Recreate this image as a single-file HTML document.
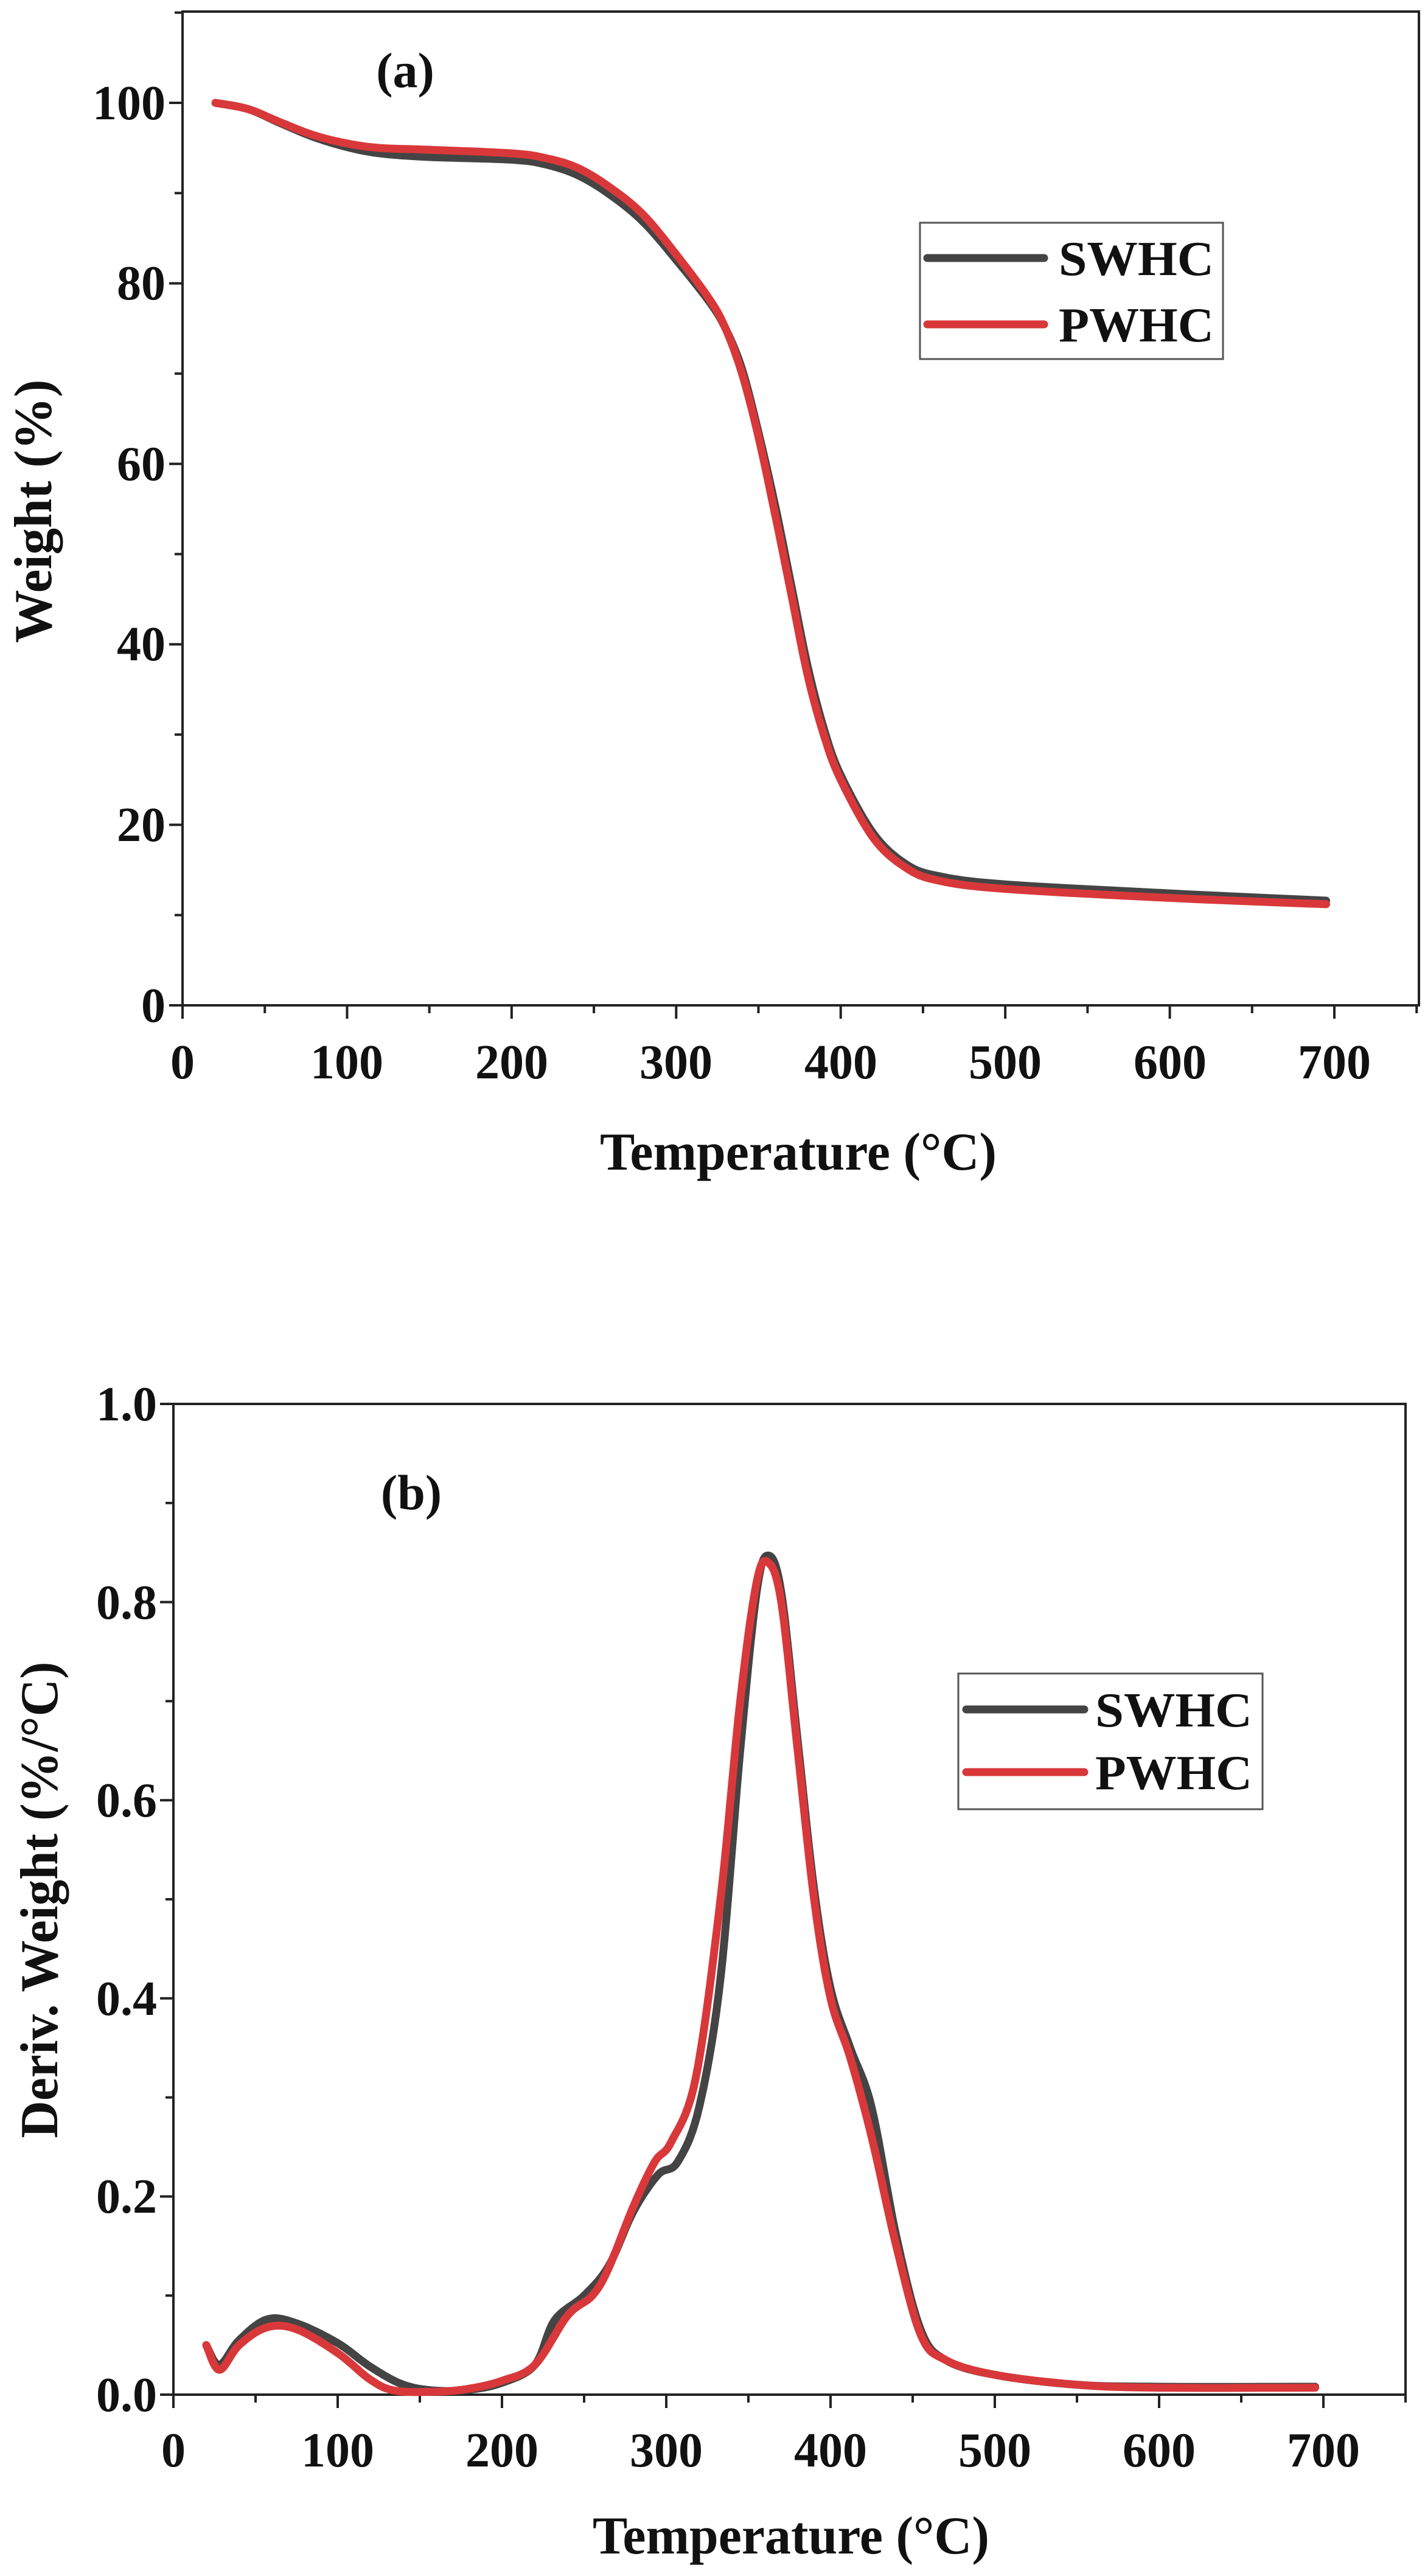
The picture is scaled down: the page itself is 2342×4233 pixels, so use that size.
<!DOCTYPE html>
<html><head><meta charset="utf-8"><style>
html,body{margin:0;padding:0;background:#fff;}
svg{display:block;}
text{font-family:"Liberation Serif",serif;font-weight:bold;fill:#111;}
</style></head><body>
<svg id="s" width="2342" height="4233" viewBox="0 0 2342 4233" xmlns="http://www.w3.org/2000/svg">
<rect width="2342" height="4233" fill="#fff"/>
<g id="g"></g>
<!-- Plot a texts -->
<text x="666" y="143" font-size="82" text-anchor="middle">(a)</text>
<g font-size="80" text-anchor="end">
<text x="272" y="196">100</text><text x="272" y="492">80</text><text x="272" y="789">60</text>
<text x="272" y="1085">40</text><text x="272" y="1382">20</text><text x="272" y="1679">0</text>
</g>
<g font-size="80" text-anchor="middle">
<text x="300" y="1772">0</text><text x="570" y="1772">100</text><text x="841" y="1772">200</text>
<text x="1111" y="1772">300</text><text x="1382" y="1772">400</text><text x="1652" y="1772">500</text>
<text x="1923" y="1772">600</text><text x="2193" y="1772">700</text>
</g>
<text x="1312" y="1922" font-size="88" text-anchor="middle" textLength="652" lengthAdjust="spacingAndGlyphs">Temperature (°C)</text>
<text transform="translate(84,840) rotate(-90)" font-size="88" text-anchor="middle" textLength="433" lengthAdjust="spacingAndGlyphs">Weight (%)</text>
<rect x="1512" y="366" width="498" height="224" fill="none" stroke="#555" stroke-width="3"/>
<line x1="1524" y1="424" x2="1716" y2="424" stroke="#444" stroke-width="13" stroke-linecap="round"/>
<line x1="1524" y1="533" x2="1716" y2="533" stroke="#d9383a" stroke-width="13" stroke-linecap="round"/>
<text x="1740" y="452" font-size="80" textLength="255" lengthAdjust="spacingAndGlyphs">SWHC</text>
<text x="1740" y="561" font-size="80" textLength="255" lengthAdjust="spacingAndGlyphs">PWHC</text>
<!-- Plot b texts -->
<text x="676" y="2480" font-size="82" text-anchor="middle">(b)</text>
<g font-size="80" text-anchor="end">
<text x="258" y="2334">1.0</text><text x="258" y="2660">0.8</text><text x="258" y="2985">0.6</text>
<text x="258" y="3311">0.4</text><text x="258" y="3636">0.2</text><text x="258" y="3962">0.0</text>
</g>
<g font-size="80" text-anchor="middle">
<text x="285" y="4053">0</text><text x="555" y="4053">100</text><text x="825" y="4053">200</text>
<text x="1095" y="4053">300</text><text x="1365" y="4053">400</text><text x="1635" y="4053">500</text>
<text x="1905" y="4053">600</text><text x="2175" y="4053">700</text>
</g>
<text x="1300" y="4196" font-size="88" text-anchor="middle" textLength="652" lengthAdjust="spacingAndGlyphs">Temperature (°C)</text>
<text transform="translate(94,3122) rotate(-90)" font-size="88" text-anchor="middle" textLength="783" lengthAdjust="spacingAndGlyphs">Deriv. Weight (%/°C)</text>
<rect x="1575" y="2750" width="500" height="223" fill="none" stroke="#555" stroke-width="3"/>
<line x1="1588" y1="2809" x2="1782" y2="2809" stroke="#444" stroke-width="13" stroke-linecap="round"/>
<line x1="1588" y1="2912" x2="1782" y2="2912" stroke="#d9383a" stroke-width="13" stroke-linecap="round"/>
<text x="1800" y="2837" font-size="80" textLength="258" lengthAdjust="spacingAndGlyphs">SWHC</text>
<text x="1800" y="2940" font-size="80" textLength="258" lengthAdjust="spacingAndGlyphs">PWHC</text>
</svg>
<script>
var g=document.getElementById('g'),NS='http://www.w3.org/2000/svg';
function el(t,a){var e=document.createElementNS(NS,t);for(var k in a)e.setAttribute(k,a[k]);g.appendChild(e);return e;}
function axes(L,R,T,B,X,Y,ymaj,ymin,ymax){
 el('rect',{x:L,y:T,width:R-L,height:B-T,fill:'none',stroke:'#222','stroke-width':4});
 for(var t=0;t<=750;t+=50){var x=X(t);el('line',{x1:x,y1:B,x2:x,y2:B+(t%100==0?22:13),stroke:'#222','stroke-width':4});}
 for(var v=0;v<=ymax+1e-9;v+=ymin){var y=Y(v);var maj=Math.abs(v/ymaj-Math.round(v/ymaj))<1e-6;el('line',{x1:L,y1:y,x2:L-(maj?22:13),y2:y,stroke:'#222','stroke-width':4});}
}
function spline(p){var o=[];for(var i=0;i<p.length-1;i++){var p0=p[i-1]||p[i],p1=p[i],p2=p[i+1],p3=p[i+2]||p[i+1];
 for(var s=0;s<10;s++){var u=s/10,u2=u*u,u3=u2*u;
 var f=function(a,b,c,d){return 0.5*(2*b+(-a+c)*u+(2*a-5*b+4*c-d)*u2+(-a+3*b-3*c+d)*u3);};
 o.push([f(p0[0],p1[0],p2[0],p3[0]),f(p0[1],p1[1],p2[1],p3[1])]);}}
 o.push(p[p.length-1]);return o;}
function curve(d,X,Y,col){var p=spline(d).map(function(q){return X(q[0]).toFixed(1)+','+Y(q[1]).toFixed(1);}).join(' ');
 el('polyline',{points:p,fill:'none',stroke:col,'stroke-width':13,'stroke-linejoin':'round','stroke-linecap':'round'});}
// plot a
var Xa=function(t){return 300+t*2.7043;},Ya=function(w){return 1652-w*14.83;};
axes(300,2332,19,1652,Xa,Ya,20,10,110);
var sa=[[20,100],[40,99.3],[60,97.7],[80,96.2],[100,95.1],[120,94.4],[150,94.0],[200,93.7],[220,93.2],[240,92.0],[260,89.8],[280,86.8],[300,82.6],[320,78],[330,75],[340,70.5],[350,63.5],[360,55.5],[370,46.5],[380,37.5],[390,30.5],[400,25.5],[420,19],[440,15.6],[460,14.3],[500,13.4],[600,12.4],[695,11.6]];
var pa=[[20,100],[40,99.3],[60,97.8],[80,96.4],[100,95.5],[120,95.0],[150,94.8],[200,94.4],[220,93.9],[240,92.8],[260,90.6],[280,87.6],[300,83.2],[320,78.3],[330,75],[340,70],[350,63],[360,54.5],[370,45.5],[380,36.5],[390,29.8],[400,25],[420,18.5],[440,15.2],[460,13.8],[500,12.9],[600,11.9],[695,11.2]];
curve(sa,Xa,Ya,'#444');curve(pa,Xa,Ya,'#d9383a');
// plot b
var Xb=function(t){return 285+t*2.7;},Yb=function(d){return 3935-d*1628;};
axes(285,2310,2307,3935,Xb,Yb,0.2,0.1,1.0);
var sb=[[20,0.05],[28,0.03],[40,0.055],[57,0.076],[75,0.072],[100,0.052],[120,0.028],[140,0.01],[160,0.004],[180,0.005],[200,0.012],[220,0.03],[232,0.075],[250,0.1],[265,0.13],[280,0.185],[295,0.222],[307,0.235],[320,0.29],[333,0.42],[345,0.65],[355,0.81],[362,0.847],[370,0.81],[380,0.66],[390,0.51],[400,0.41],[412,0.35],[425,0.29],[440,0.16],[455,0.065],[470,0.035],[500,0.02],[550,0.01],[600,0.008],[695,0.008]];
var pb=[[20,0.05],[28,0.025],[40,0.05],[57,0.068],[75,0.066],[100,0.042],[120,0.015],[135,0.004],[160,0.003],[180,0.006],[200,0.014],[220,0.03],[240,0.08],[255,0.1],[265,0.128],[280,0.19],[293,0.235],[303,0.255],[318,0.32],[333,0.5],[345,0.7],[355,0.82],[362,0.84],[370,0.8],[380,0.65],[390,0.5],[400,0.4],[412,0.34],[425,0.26],[440,0.15],[455,0.06],[470,0.035],[500,0.02],[550,0.01],[600,0.007],[695,0.007]];
curve(sb,Xb,Yb,'#444');curve(pb,Xb,Yb,'#d9383a');
</script>
</body></html>
